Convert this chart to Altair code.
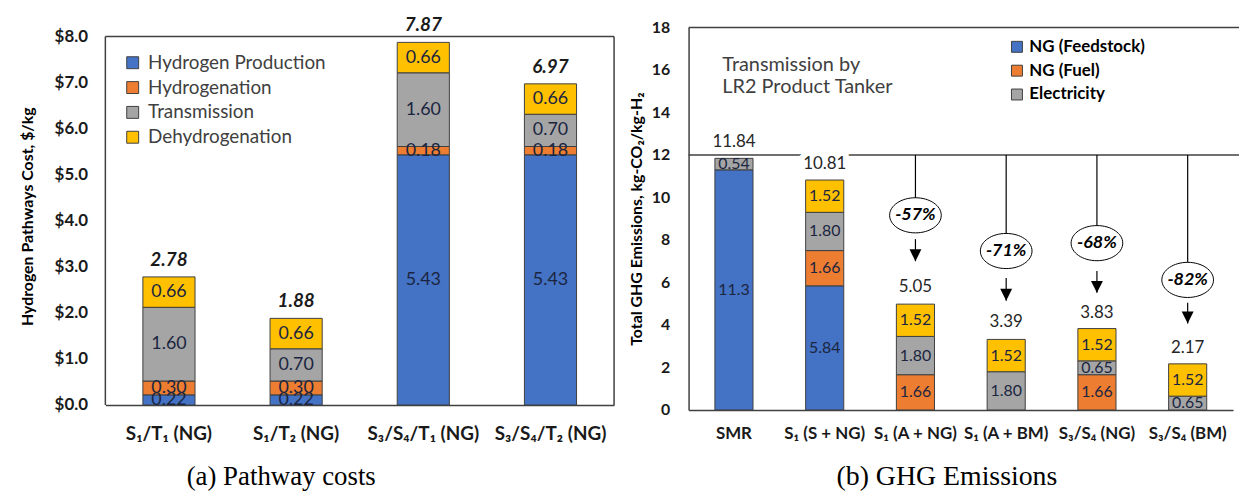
import altair as alt
import pandas as pd

FONT = "Lato"
FRAME = "#404040"
INK = "#1b2540"

# ---------------- Panel (a): pathway costs ----------------
a_categories = ["S₁/T₁ (NG)", "S₁/T₂ (NG)", "S₃/S₄/T₁ (NG)", "S₃/S₄/T₂ (NG)"]
a_components = ["Hydrogen Production", "Hydrogenation", "Transmission", "Dehydrogenation"]
a_colors = ["#4472C4", "#ED7D31", "#A5A5A5", "#FFC000"]
a_h2_production = [0.22, 0.22, 5.43, 5.43]
a_hydrogenation = [0.30, 0.30, 0.18, 0.18]
a_transmission = [1.60, 0.70, 1.60, 0.70]
a_dehydrogenation = [0.66, 0.66, 0.66, 0.66]
a_totals = [2.78, 1.88, 7.87, 6.97]
a_frame_top = 8
a_caption = "(a) Pathway costs"

# ---------------- Panel (b): GHG emissions ----------------
b_categories = ["SMR", "S₁ (S + NG)", "S₁ (A + NG)", "S₁ (A + BM)", "S₃/S₄ (NG)", "S₃/S₄ (BM)"]
b_components = ["NG (Feedstock)", "NG (Fuel)", "Electricity", "Dehydrogenation"]
b_colors = ["#4472C4", "#ED7D31", "#A5A5A5", "#FFC000"]
b_feedstock = [11.3, 5.84, 0, 0, 0, 0]
b_fuel = [0, 1.66, 1.66, 0, 1.66, 0]
b_electricity = [0.54, 1.80, 1.80, 1.80, 0.65, 0.65]
b_dehydrogenation = [0, 1.52, 1.52, 1.52, 1.52, 1.52]
b_totals = [11.84, 10.81, 5.05, 3.39, 3.83, 2.17]
b_ref_level = 12
b_frame_top = 18
b_reduction_cats = ["S₁ (A + NG)", "S₁ (A + BM)", "S₃/S₄ (NG)", "S₃/S₄ (BM)"]
b_reductions = ["-57%", "-71%", "-68%", "-82%"]
b_ellipse_y = [9.16, 7.48, 7.85, 6.12]
b_arrow_top = [8.04, 6.21, 6.54, 5.05]
b_arrow_tip = [7.00, 5.14, 5.51, 4.07]
b_note_lines = ["Transmission by", "LR2 Product Tanker"]
b_note_y = [16.22, 15.19]
b_caption = "(b) GHG Emissions"


def fmt(v):
    return f"{v:.1f}" if v >= 10 else f"{v:.2f}"


def stacked(cats, comps, series):
    rows = []
    for i, c in enumerate(cats):
        base = 0.0
        for j, (comp, vals) in enumerate(zip(comps, series)):
            v = vals[i]
            if v <= 0:
                continue
            rows.append(dict(cat=c, comp=comp, ord=j, start=base, end=base + v,
                             mid=base + v / 2, label=fmt(v)))
            base += v
    return pd.DataFrame(rows)


# ======================= Panel (a) =======================
W_A, H_A, YMAX_A = 512, 380, 8.194
a_stack = stacked(a_categories, a_components,
                  [a_h2_production, a_hydrogenation, a_transmission, a_dehydrogenation])
a_tot = pd.DataFrame({"cat": a_categories, "total": a_totals,
                      "label": [f"{v:.2f}" for v in a_totals]})
a_frame = pd.DataFrame({"lo": [0], "hi": [a_frame_top]})

xa_scale = alt.Scale(domain=a_categories, paddingInner=0.59, paddingOuter=0.295)
ya_scale = alt.Scale(domain=[0, YMAX_A], nice=False)
xa_axis = alt.Axis(title=None, labelAngle=0, ticks=False, domainColor=FRAME, domainWidth=1.5,
                   labelFont=FONT, labelFontSize=19, labelFontWeight="bold",
                   labelColor="#1a1a1a", labelPadding=20, grid=False, labelOverlap=False,
                   labelLimit=300)
ya_axis = alt.Axis(title="Hydrogen Pathways Cost, $/kg", values=list(range(9)), format="$.1f",
                   domain=False, ticks=False, grid=False, labelFont=FONT, labelFontSize=17,
                   labelFontWeight="bold", labelColor="#1a1a1a", labelPadding=18,
                   titleFont=FONT, titleFontSize=16, titleFontWeight="bold",
                   titleColor="#000000", titlePadding=19)


def XA():
    return alt.X("cat:N", scale=xa_scale, axis=xa_axis)


def YA(field):
    return alt.Y(field, scale=ya_scale, axis=ya_axis)


bars_a = alt.Chart(a_stack).mark_bar(stroke=FRAME, strokeWidth=1).encode(
    x=XA(), y=YA("start:Q"), y2="end:Q",
    color=alt.Color("comp:N", scale=alt.Scale(domain=a_components, range=a_colors),
                    legend=alt.Legend(title=None, orient="none", legendX=18, legendY=26,
                                      symbolType="square", symbolSize=144,
                                      symbolStrokeColor=FRAME, symbolStrokeWidth=1,
                                      labelFont=FONT, labelFontSize=19, labelColor="#404040",
                                      rowPadding=5, padding=0, labelOffset=6,
                                      labelLimit=400)),
    order=alt.Order("ord:Q"),
)
seg_a = alt.Chart(a_stack).mark_text(font=FONT, fontSize=18, color=INK).encode(
    x=XA(), y=YA("mid:Q"), text="label:N")
tot_a = alt.Chart(a_tot).mark_text(font=FONT, fontSize=19, fontWeight="bold",
                                   fontStyle="italic", dy=-17, color="#1a1a1a").encode(
    x=XA(), y=YA("total:Q"), text="label:N")
frame_top_a = alt.Chart(a_frame).mark_rule(color=FRAME, strokeWidth=1.5).encode(
    x=alt.value(0), x2=alt.value(W_A), y=YA("hi:Q"))
frame_left_a = alt.Chart(a_frame).mark_rule(color=FRAME, strokeWidth=1.5).encode(
    x=alt.value(0), y=YA("lo:Q"), y2="hi:Q")
frame_right_a = alt.Chart(a_frame).mark_rule(color=FRAME, strokeWidth=1.5).encode(
    x=alt.value(W_A), y=YA("lo:Q"), y2="hi:Q")
cap_a = alt.Chart(pd.DataFrame({"t": [a_caption]})).mark_text(
    font="Liberation Serif", fontSize=27, color="#000000").encode(
    x=alt.value(177), y=alt.value(453), text="t:N")

panel_a = alt.layer(bars_a, seg_a, tot_a, frame_top_a, frame_left_a, frame_right_a,
                    cap_a).properties(width=W_A, height=H_A)

# ======================= Panel (b) =======================
W_B, H_B = 548, 385
b_stack = stacked(b_categories, b_components,
                  [b_feedstock, b_fuel, b_electricity, b_dehydrogenation])
b_tot = pd.DataFrame({"cat": b_categories, "total": b_totals,
                      "label": [f"{v:.2f}" for v in b_totals]})
b_red = pd.DataFrame({"cat": b_reduction_cats, "pct": b_reductions, "ell": b_ellipse_y,
                      "ref": [b_ref_level] * len(b_reduction_cats),
                      "a0": b_arrow_top, "a1": b_arrow_tip})
b_note = pd.DataFrame({"t": b_note_lines, "y": b_note_y})
b_lines = pd.DataFrame({"y": [b_ref_level, b_frame_top]})

xb_scale = alt.Scale(domain=b_categories, paddingInner=0.58, paddingOuter=0.29)
yb_scale = alt.Scale(domain=[0, b_frame_top], nice=False)
xb_axis = alt.Axis(title=None, labelAngle=0, ticks=False, domainColor=FRAME, domainWidth=1.5,
                   labelFont=FONT, labelFontSize=17, labelFontWeight="bold",
                   labelColor="#1a1a1a", labelPadding=16, grid=False, labelOverlap=False,
                   labelLimit=300)
yb_axis = alt.Axis(title="Total GHG Emissions, kg-CO₂/kg-H₂", values=list(range(0, 19, 2)),
                   domain=True, domainColor=FRAME, domainWidth=1.5, ticks=False, grid=False,
                   labelFont=FONT, labelFontSize=16, labelFontWeight="bold",
                   labelColor="#1a1a1a", labelPadding=19, titleFont=FONT, titleFontSize=16,
                   titleFontWeight="bold", titleColor="#000000", titlePadding=7)


def XB():
    return alt.X("cat:N", scale=xb_scale, axis=xb_axis)


def YB(field):
    return alt.Y(field, scale=yb_scale, axis=yb_axis)


lines_b = alt.Chart(b_lines).mark_rule(color=FRAME, strokeWidth=1.5).encode(
    x=alt.value(0), x2=alt.value(W_B + 6), y=YB("y:Q"))
drops_b = alt.Chart(b_red).mark_rule(color="#000000", strokeWidth=1.2).encode(
    x=XB(), y=YB("ref:Q"), y2="ell:Q")
bars_b = alt.Chart(b_stack).mark_bar(stroke=FRAME, strokeWidth=1).encode(
    x=XB(), y=YB("start:Q"), y2="end:Q",
    color=alt.Color("comp:N", scale=alt.Scale(domain=b_components, range=b_colors),
                    legend=alt.Legend(title=None, orient="none", legendX=322, legendY=11,
                                      values=b_components[:3],
                                      symbolType="square", symbolSize=121,
                                      symbolStrokeColor=FRAME, symbolStrokeWidth=1,
                                      labelFont=FONT, labelFontSize=17, labelFontWeight="bold",
                                      labelColor="#000000", rowPadding=6, padding=0,
                                      labelOffset=4, labelLimit=400)),
    order=alt.Order("ord:Q"),
)
seg_b = alt.Chart(b_stack).mark_text(font=FONT, fontSize=16, color=INK).encode(
    x=XB(), y=YB("mid:Q"), text="label:N")
halo_b = alt.Chart(b_tot).transform_filter(
    "datum.total > 10 && datum.total < 11.5"
).mark_text(font=FONT, fontSize=17, dy=-16, color="white", stroke="white",
            strokeWidth=12).encode(
    x=XB(), y=YB("total:Q"), text="label:N")
tot_b = alt.Chart(b_tot).mark_text(font=FONT, fontSize=17, dy=-16, color="#262626").encode(
    x=XB(), y=YB("total:Q"), text="label:N")
ELLIPSE = "M-1,0A1,0.68,0,1,1,1,0A1,0.68,0,1,1,-1,0Z"
ell_b = alt.Chart(b_red).mark_point(shape=ELLIPSE, size=2704, filled=True, fill="white",
                                    stroke="#000000", strokeWidth=1, opacity=1).encode(
    x=XB(), y=YB("ell:Q"))
pct_b = alt.Chart(b_red).mark_text(font=FONT, fontSize=18, fontWeight="bold",
                                   fontStyle="italic", color="#000000").encode(
    x=XB(), y=YB("ell:Q"), text="pct:N")
shaft_b = alt.Chart(b_red).mark_rule(color="#000000", strokeWidth=1.2).encode(
    x=XB(), y=YB("a0:Q"), y2="a1:Q")
TRI = "M-1,-2L1,-2L0,0Z"
head_b = alt.Chart(b_red).mark_point(shape=TRI, size=144, filled=True, color="#000000",
                                     opacity=1).encode(
    x=XB(), y=YB("a1:Q"))
note_b = alt.Chart(b_note).mark_text(font=FONT, fontSize=20, color="#404040",
                                     align="left").encode(
    x=alt.value(34), y=YB("y:Q"), text="t:N")
cap_b = alt.Chart(pd.DataFrame({"t": [b_caption]})).mark_text(
    font="Liberation Serif", fontSize=28, color="#000000").encode(
    x=alt.value(260), y=alt.value(453), text="t:N")

panel_b = alt.layer(lines_b, drops_b, bars_b, seg_b, halo_b, tot_b, ell_b, pct_b,
                    shaft_b, head_b, note_b, cap_b).properties(width=W_B, height=H_B)

chart = alt.hconcat(panel_a, panel_b, spacing=75, bounds="flush").resolve_scale(
    color="independent"
).properties(
    padding={"left": 11, "top": 7, "right": 0, "bottom": 0}
).configure_view(strokeWidth=0)

chart.save("out.html", embed_options={"renderer": "svg", "actions": False})
